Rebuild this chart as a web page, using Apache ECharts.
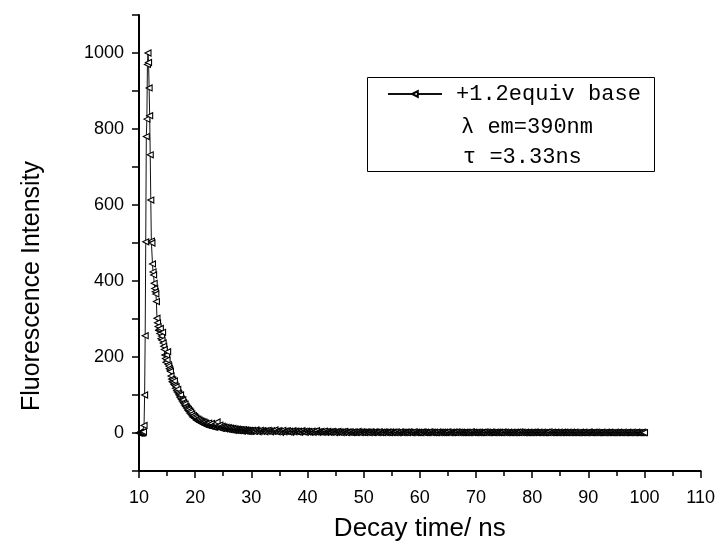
<!DOCTYPE html>
<html>
<head>
<meta charset="utf-8">
<script src="https://cdn.jsdelivr.net/npm/echarts@6/dist/echarts.min.js"></script>
<style>
html,body{margin:0;padding:0;background:#fff;}
#chart{width:718px;height:547px;}
</style>
</head>
<body>
<div id="chart"></div>
<script>
// ---- data ----
const seriesName = '+1.2equiv base';
const legendLine2 = 'λ em=390nm';
const legendLine3 = 'τ =3.33ns';
const xTitle = 'Decay time/ ns';
const yTitle = 'Fluorescence Intensity';

// head segment: 10.0 ns .. 30.0 ns, step 0.1 ns
const headStart = 10.0;
const headStep = 0.1;
const headValues = [
  0,1,0,2,1,0,2,1,3,20,
  100,256,503,780,826,970,1000,975,908,835,
  732,613,505,500,445,424,416,394,380,372,
  366,346,302,290,280,270,272,262,275,248,
  255,244,265,237,228,220,205,196,186,205,
  192,214,180,176,170,166,162,150,142,135,
  140,132,128,137,125,118,122,112,108,115,
  105,102,98,94,100,90,88,84,87,80,
  78,74,76,70,69,66,64,60,62,56,
  58,52,55,48,50,45,42,46,40,43,
  38,40,34,37,33,36,30,34,31,28,
  32,27,30,25,29,24,28,22,26,25,
  21,24,20,23,26,19,22,18,21,25,
  17,20,16,19,22,15,18,24,17,29,
  16,19,14,17,21,13,16,12,18,15,
  13,16,11,14,12,15,10,13,11,14,
  9,12,10,13,8,11,9,12,7,10,
  8,11,7,9,8,10,6,9,7,8,
  6,9,6,8,5,7,9,6,7,5,
  8,6,5,7,4,6,5,7,4,6,
  5
];

// tail segment: 30.2 ns .. 100.0 ns, step 0.2 ns
const tailStart = 30.2;
const tailStep = 0.2;
const tailValues = [
  7,5,4,8,6,3,5,7,4,6,
  5,3,6,4,7,5,3,6,4,5,
  8,4,3,6,5,2,4,7,3,5,
  4,6,3,5,2,4,6,3,5,4,
  3,5,2,4,6,3,4,2,5,3,
  4,2,3,5,2,4,3,6,2,3,
  3,4,2,3,5,2,3,4,2,3,
  2,4,3,1,3,2,4,2,3,1,
  3,2,4,2,1,3,2,3,1,2,
  2,3,1,2,4,2,1,3,2,2,
  1,3,2,2,1,3,2,1,2,3,
  2,1,2,3,1,2,1,3,2,1,
  2,2,1,3,1,2,2,1,3,1,
  1,2,3,1,2,1,2,2,1,3,
  2,1,1,2,3,1,2,1,2,1,
  1,3,2,1,2,1,1,2,3,1,
  2,1,2,1,1,3,1,2,1,2,
  1,2,1,2,3,1,1,2,1,2,
  2,1,3,1,2,1,2,1,1,2,
  1,2,1,1,2,3,1,2,1,1,
  2,1,2,1,1,2,1,3,1,2,
  1,1,2,2,1,1,2,1,2,1,
  2,1,1,3,1,2,1,1,2,1,
  1,2,1,1,2,1,2,1,3,1,
  2,1,1,2,1,1,2,1,1,2,
  1,2,2,1,1,2,1,1,2,1,
  1,1,2,1,3,1,1,2,1,1,
  2,1,1,2,1,1,2,1,2,1,
  1,2,1,1,2,1,1,2,1,1,
  1,1,2,1,1,2,1,1,1,2,
  2,1,1,1,2,1,2,1,1,1,
  1,2,1,1,1,2,1,1,2,1,
  1,1,1,2,1,1,2,1,1,1,
  2,1,1,1,2,1,1,1,2,1,
  1,1,2,1,1,1,1,2,1,1
];

// axis ticks
const xMin = 10, xMax = 110, xInterval = 10;
const yMin = -100, yMax = 1100, yInterval = 100;
const yLabelValues = [0, 200, 400, 600, 800, 1000];

// ---- build ----
const seriesData = [];
headValues.forEach((v, i) => seriesData.push([+(headStart + i * headStep).toFixed(2), v]));
tailValues.forEach((v, i) => seriesData.push([+(tailStart + i * tailStep).toFixed(2), v]));

const chart = echarts.init(document.getElementById('chart'), null, {renderer: 'canvas'});
const axisFont = 'Liberation Sans, Arial, sans-serif';
const legendFont = 'Liberation Mono, monospace';

chart.setOption({
  animation: false,
  backgroundColor: '#fff',
  grid: {left: 139, right: 13, top: 15, bottom: 76, containLabel: false},
  xAxis: {
    type: 'value', min: xMin, max: xMax, interval: xInterval,
    axisLine: {onZero: false, lineStyle: {color: '#000', width: 2}},
    axisTick: {show: true, inside: false, length: 7, lineStyle: {color: '#000', width: 1.5}},
    minorTick: {show: true, splitNumber: 2, length: 5, lineStyle: {color: '#000', width: 1.5}},
    axisLabel: {color: '#000', fontFamily: axisFont, fontSize: 18, margin: 18},
    splitLine: {show: false},
    name: xTitle, nameLocation: 'middle', nameGap: 45,
    nameTextStyle: {color: '#000', fontFamily: axisFont, fontSize: 26}
  },
  yAxis: {
    type: 'value', min: yMin, max: yMax, interval: yInterval,
    axisLine: {show: true, lineStyle: {color: '#000', width: 2}},
    axisTick: {show: true, inside: false, length: 7, lineStyle: {color: '#000', width: 1.5}},
    axisLabel: {
      color: '#000', fontFamily: axisFont, fontSize: 18, margin: 15,
      formatter: v => (yLabelValues.indexOf(v) >= 0 ? String(v) : '')
    },
    splitLine: {show: false},
    name: yTitle, nameLocation: 'middle', nameGap: 94,
    nameTextStyle: {color: '#000', fontFamily: axisFont, fontSize: 25, padding: [0, 86, 0, 0]}
  },
  legend: {
    data: [seriesName],
    left: 387, top: 83,
    padding: 0,
    itemWidth: 54, itemHeight: 7,
    textStyle: {color: '#000', fontFamily: legendFont, fontSize: 22, padding: [0, 0, 0, 9]}
  },
  graphic: [
    {type: 'rect', left: 365, top: 75, shape: {width: 287, height: 94},
     style: {fill: null, stroke: '#000', lineWidth: 1}, silent: true},
    {type: 'text', left: 461, top: 116,
     style: {text: legendLine2, fill: '#000', font: '22px ' + legendFont}},
    {type: 'text', left: 463, top: 146,
     style: {text: legendLine3, fill: '#000', font: '22px ' + legendFont}}
  ],
  series: [{
    name: seriesName,
    type: 'line',
    data: seriesData,
    showAllSymbol: true,
    symbol: 'triangle',
    symbolSize: 6,
    symbolRotate: 90,
    lineStyle: {color: '#111', width: 1},
    itemStyle: {color: '#fff', borderColor: '#000', borderWidth: 1.1},
    emphasis: {disabled: true}
  }]
});
</script>
</body>
</html>
